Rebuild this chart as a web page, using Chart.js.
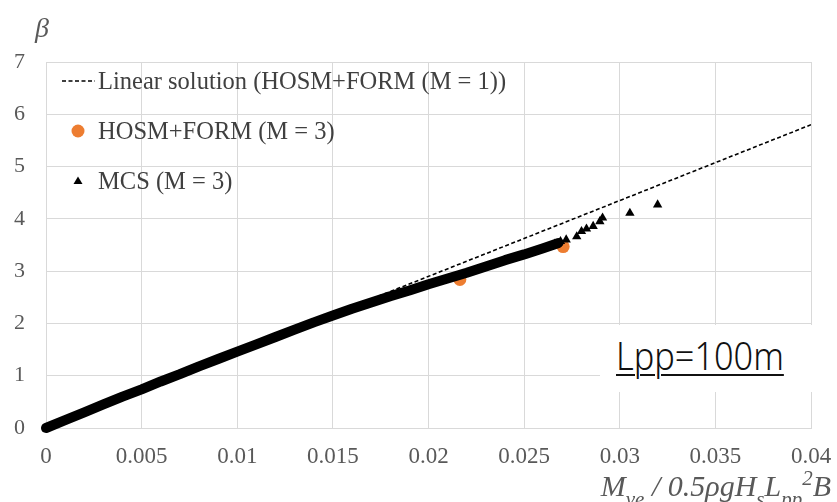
<!DOCTYPE html>
<html>
<head>
<meta charset="utf-8">
<script src="https://cdn.jsdelivr.net/npm/chart.js@4.4.1/dist/chart.umd.min.js"></script>
<style>
    body { margin: 0; background: #fff; }
    #wrap { position: relative; width: 837px; height: 502px; overflow: hidden; }
    .serif { font-family: 'Liberation Serif', 'DejaVu Serif', serif; color: #404040; position: absolute; white-space: nowrap; }
    #beta { left: 35px; top: 12px; font-size: 28px; font-style: italic; color: #595959; }
    #xtitle { right: 6px; top: 466px; font-size: 30px; font-style: italic; color: #595959; }
    #xtitle sub { font-size: 21px; vertical-align: -10px; }
    #xtitle sup { font-size: 21px; vertical-align: 11px; }
    .leg { position: absolute; left: 60px; height: 30px; }
    .leg span { position: absolute; left: 38px; top: 0; font-size: 24.5px; line-height: 30px; }
    .leg svg { position: absolute; left: 0; top: 0; }
    #lpp { position: absolute; left: 600px; top: 325px; width: 216px; height: 67px; background: #fff; }
    #lpp span { position: absolute; left: 16px; top: 3px; font-family: 'Noto Sans', sans-serif; font-size: 39px; font-weight: 300;
        color: #111; text-decoration: underline; text-decoration-thickness: 2px; text-underline-offset: 4px;
        transform: scaleX(0.88); transform-origin: left top; }
</style>
</head>
<body>
<div id="wrap">
    <canvas id="myChart"></canvas>
    <div id="beta" class="serif">β</div>
    <div id="xtitle" class="serif">M<sub>ve</sub> / 0.5ρgH<sub>s</sub>L<sub>pp</sub><sup>2</sup>B</div>
    <div class="leg" style="top:66px">
        <svg width="36" height="30"><line x1="2" y1="15" x2="35" y2="15" stroke="#000" stroke-width="1.6" stroke-dasharray="4,2.5"/></svg>
        <span class="serif">Linear solution (HOSM+FORM (M = 1))</span>
    </div>
    <div class="leg" style="top:116px">
        <svg width="36" height="30"><circle cx="18" cy="15" r="6.5" fill="#ED7D31"/></svg>
        <span class="serif">HOSM+FORM (M = 3)</span>
    </div>
    <div class="leg" style="top:166px">
        <svg width="36" height="30"><polygon points="18,10.5 22.5,18 13.5,18" fill="#000"/></svg>
        <span class="serif">MCS (M = 3)</span>
    </div>
    <div id="lpp"><span>Lpp=100m</span></div>
</div>
<script>
// Linear solution (HOSM+FORM, M = 1)
const linearX = [0, 0.04];
const linearY = [0, 5.8];

// HOSM+FORM (M = 3)
const formX = [0.02164, 0.02704];
const formY = [2.84, 3.47];

// MCS (M = 3): dense part read along the band centre
const mcsBandX = [0, 0.001, 0.002, 0.003, 0.004, 0.005, 0.006, 0.007, 0.008, 0.009, 0.010,
    0.011, 0.012, 0.013, 0.014, 0.015, 0.016, 0.017, 0.018, 0.019, 0.020,
    0.021, 0.022, 0.023, 0.024, 0.025, 0.026, 0.0268];
const mcsBandY = [0, 0.15, 0.30, 0.45, 0.60, 0.74, 0.89, 1.03, 1.18, 1.32, 1.46,
    1.60, 1.74, 1.88, 2.02, 2.15, 2.28, 2.40, 2.52, 2.63, 2.75,
    2.86, 2.97, 3.09, 3.21, 3.32, 3.44, 3.54];

// MCS (M = 3): separate triangles at the tail
const mcsX = [0.0266, 0.0269, 0.0272, 0.02775, 0.0280, 0.02826, 0.02861, 0.02896, 0.0291, 0.03053, 0.03198];
const mcsY = [3.52, 3.57, 3.60, 3.66, 3.76, 3.81, 3.86, 3.95, 4.02, 4.11, 4.27];

const xTickLabels = ['0', '0.005', '0.01', '0.015', '0.02', '0.025', '0.03', '0.035', '0.04'];
const yTickLabels = ['0', '1', '2', '3', '4', '5', '6', '7'];

function toPoints(xs, ys) {
    return xs.map((x, i) => ({ x: x, y: ys[i] }));
}

const ctx = document.getElementById('myChart');

new Chart(ctx, {
    type: 'scatter',
    data: {
        datasets: [
            {
                label: 'MCS (M = 3)',
                data: toPoints(mcsX, mcsY),
                pointStyle: 'triangle',
                pointRadius: 5.4,
                backgroundColor: '#000',
                borderColor: '#000',
                borderWidth: 0,
                clip: false
            },
            {
                label: 'MCS band',
                data: toPoints(mcsBandX, mcsBandY),
                showLine: true,
                borderColor: '#000',
                borderWidth: 10,
                borderCapStyle: 'round',
                borderJoinStyle: 'round',
                pointRadius: 0,
                clip: false
            },
            {
                label: 'HOSM+FORM (M = 3)',
                data: toPoints(formX, formY),
                pointStyle: 'circle',
                pointRadius: 6.5,
                backgroundColor: '#ED7D31',
                borderWidth: 0
            },
            {
                label: 'Linear solution (HOSM+FORM (M = 1))',
                data: toPoints(linearX, linearY),
                showLine: true,
                borderColor: '#000',
                borderWidth: 1.6,
                borderDash: [4, 2.5],
                pointRadius: 0
            }
        ]
    },
    options: {
        responsive: true,
        maintainAspectRatio: false,
        animation: false,
        layout: { padding: { top: 62, right: 26, left: 0, bottom: 0 } },
        plugins: { legend: { display: false }, tooltip: { enabled: false } },
        scales: {
            x: {
                type: 'linear',
                min: 0,
                max: 0.04,
                afterFit: s => {
                    s.height = 74;
                    s.paddingLeft = 0;
                    s.paddingRight = 0;
                },
                afterBuildTicks: s => { s.ticks = xTickLabels.map(t => ({ value: parseFloat(t) })); },
                ticks: {
                    callback: (v, i) => xTickLabels[i],
                    font: { family: "'Liberation Serif', serif", size: 23 },
                    color: '#595959',
                    padding: 15,
                    maxRotation: 0,
                    autoSkip: false
                },
                grid: { color: '#d9d9d9', drawTicks: false },
                border: { color: '#d9d9d9' }
            },
            y: {
                min: 0,
                max: 7,
                afterFit: s => {
                    s.width = 46;
                    s.paddingTop = 0;
                    s.paddingBottom = 0;
                },
                afterBuildTicks: s => { s.ticks = yTickLabels.map(t => ({ value: parseFloat(t) })); },
                ticks: {
                    callback: (v, i) => yTickLabels[i],
                    font: { family: "'Liberation Serif', serif", size: 22 },
                    color: '#595959',
                    padding: 21
                },
                grid: { color: '#d9d9d9', drawTicks: false },
                border: { color: '#d9d9d9' }
            }
        }
    }
});
</script>
</body>
</html>
